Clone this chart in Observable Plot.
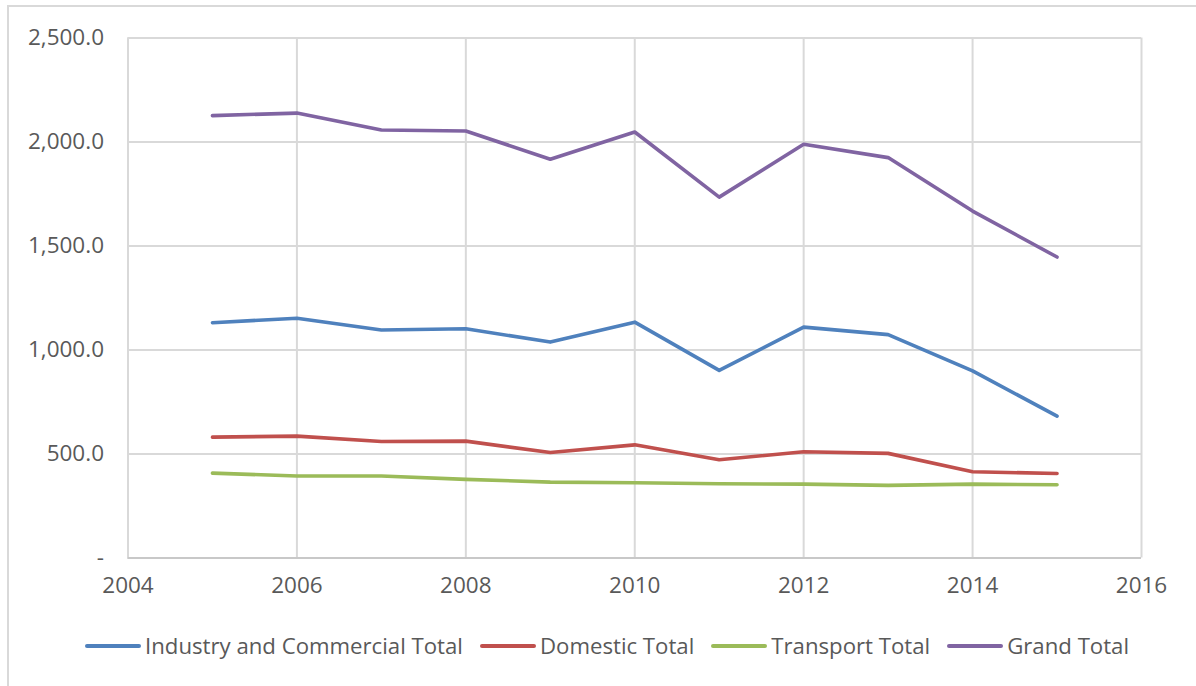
<!DOCTYPE html>
<html>
<head>
<meta charset="utf-8">
<script src="https://cdn.jsdelivr.net/npm/d3@7"></script>
<script src="https://cdn.jsdelivr.net/npm/@observablehq/plot@0.6"></script>
<style>
  html, body { margin: 0; padding: 0; background: #fff; }
  #wrap { position: relative; width: 1196px; height: 686px; overflow: hidden; font-family: "Open Sans", sans-serif; }
  #frame { position: absolute; left: 7px; top: 5px; width: 1200px; height: 700px; border-left: 2px solid #d9d9d9; border-top: 2px solid #d9d9d9; box-sizing: border-box; }
  #chart { position: absolute; left: 0; top: 0; }
  #legend { position: absolute; left: 85px; top: 630px; display: flex; align-items: center; font-size: 22.2px; color: #595959; white-space: nowrap; }
  .item { display: flex; align-items: center; margin-right: 17px; }
  .sw { width: 56px; height: 4px; border-radius: 2px; margin-right: 4px; }
</style>
</head>
<body>
<div id="wrap">
  <div id="frame"></div>
  <div id="chart"></div>
  <div id="legend"></div>
</div>
<script>
const years = [2005, 2006, 2007, 2008, 2009, 2010, 2011, 2012, 2013, 2014, 2015];
const seriesNames = ["Industry and Commercial Total", "Domestic Total", "Transport Total", "Grand Total"];
const seriesColors = ["#4F81BD", "#C0504D", "#9BBB59", "#8064A2"];
const industry = [1131, 1153, 1096, 1102, 1038, 1134, 902, 1110, 1074, 900, 682];
const domestic = [581, 586, 560, 562, 507, 544, 472, 511, 503, 415, 406];
const transport = [408, 394, 394, 378, 365, 362, 357, 355, 349, 355, 352];
const grandTotal = [2127, 2139, 2058, 2053, 1917, 2048, 1735, 1989, 1925, 1668, 1447];
const xTicks = [2004, 2006, 2008, 2010, 2012, 2014, 2016];
const yTicks = [0, 500, 1000, 1500, 2000, 2500];

const seriesValues = [industry, domestic, transport, grandTotal];
const data = [];
seriesNames.forEach((name, i) => {
  years.forEach((yr, j) => data.push({series: name, year: yr, value: seriesValues[i][j]}));
});

const fmt = v => v === 0 ? "-" : d3.format(",.1f")(v);

const chart = Plot.plot({
  width: 1196,
  height: 615,
  marginLeft: 127.5,
  marginRight: 55,
  marginTop: 37.5,
  marginBottom: 57.5,
  style: { fontFamily: "Open Sans, sans-serif", fontSize: "22.5px", color: "#595959", background: "transparent" },
  x: { domain: [2004, 2016], ticks: xTicks, tickFormat: d => String(d), label: null },
  y: { domain: [0, 2500], ticks: yTicks, tickFormat: fmt, label: null },
  color: { domain: seriesNames, range: seriesColors },
  marks: [
    Plot.gridY(yTicks, { stroke: "#d9d9d9", strokeOpacity: 1, strokeWidth: 2 }),
    Plot.gridX(xTicks, { stroke: "#d9d9d9", strokeOpacity: 1, strokeWidth: 2 }),
    Plot.ruleY([0], { stroke: "#c8c8c8", strokeWidth: 2 }),
    Plot.axisX({ ticks: xTicks, tickSize: 0, tickPadding: 19, tickFormat: d => String(d), fill: "#595959", label: null }),
    Plot.axisY({ ticks: yTicks, tickSize: 0, tickPadding: 24, tickFormat: fmt, fill: "#595959", label: null }),
    Plot.line(data, { x: "year", y: "value", z: "series", stroke: "series", strokeWidth: 3.6, strokeLinejoin: "round", strokeLinecap: "round" })
  ]
});
document.getElementById("chart").appendChild(chart);

const legend = document.getElementById("legend");
seriesNames.forEach((name, i) => {
  const item = document.createElement("div");
  item.className = "item";
  const sw = document.createElement("div");
  sw.className = "sw";
  sw.style.background = seriesColors[i];
  const label = document.createElement("span");
  label.textContent = name;
  item.appendChild(sw);
  item.appendChild(label);
  legend.appendChild(item);
});
</script>
</body>
</html>
